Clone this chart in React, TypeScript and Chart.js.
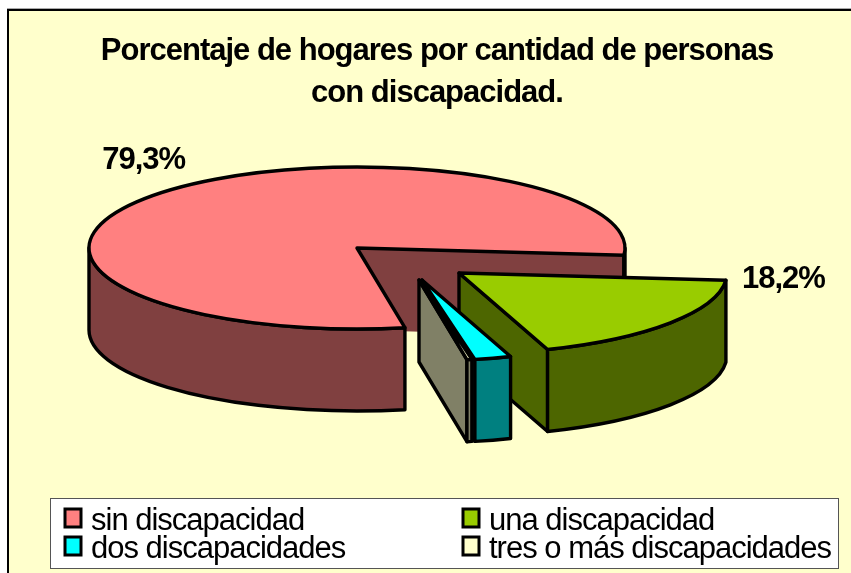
import React, { useEffect, useRef } from "react";
import { Chart, registerables } from "chart.js";

Chart.register(...registerables);

const categories = ["sin discapacidad", "una discapacidad", "dos discapacidades", "tres o más discapacidades"];
const values = [79.3, 18.2, 2.2, 0.3];
const titleLines = ["Porcentaje de hogares por cantidad de personas", "con discapacidad."];
const labelled = [true, true, false, false];

const topColors = ["#FF8080", "#99CC00", "#00FFFF", "#FFFFCC"];
const wallColors = ["#804040", "#4D6600", "#008080", "#808066"];
const cutColors = ["#804040", "#4D6600", "#00FFFF", "#808066"];

const FONT = "'Liberation Sans', Arial, sans-serif";
const CX = 357, CY = 248, RX = 268, RY = 81, DEPTH = 82, LW = 3.4;
const explode = [[0, 0], [102, 25], [65, 32], [62, 32]];
const labelShift = [[-57, -24], [16, 8]];
const legendCols = [65, 463];
const legendRows = [530, 558];

const pie3d = {
  id: "pie3d",
  beforeDraw(chart: any) {
    (chart.ctx as any).letterSpacing = "-1px";
  },
  beforeDatasetsDraw(chart: any) {
    const ctx: CanvasRenderingContext2D = chart.ctx;
    const arcs = chart.getDatasetMeta(0).data;
    arcs.forEach((arc: any, i: number) => {
      const [dx, dy] = explode[i];
      const cx = CX + dx, cy = CY + dy;
      const a0 = arc.startAngle, a1 = arc.endAngle;
      ctx.save();
      ctx.lineWidth = LW;
      ctx.lineJoin = "round";
      ctx.strokeStyle = "#000";

      // cut faces
      const cut = (a: number) => {
        const x = cx + RX * Math.cos(a), y = cy + RY * Math.sin(a);
        ctx.beginPath();
        ctx.moveTo(cx, cy); ctx.lineTo(x, y); ctx.lineTo(x, y + DEPTH); ctx.lineTo(cx, cy + DEPTH); ctx.closePath();
        ctx.fillStyle = cutColors[i];
        ctx.fill();
        ctx.beginPath();
        if (i === 0) {
          ctx.moveTo(x, y); ctx.lineTo(x, y + DEPTH);
        } else {
          ctx.moveTo(cx, cy); ctx.lineTo(x, y); ctx.lineTo(x, y + DEPTH); ctx.lineTo(cx, cy + DEPTH); ctx.closePath();
        }
        ctx.stroke();
      };
      if (-Math.cos(a0) > 0) cut(a0);
      if (Math.cos(a1) > 0) cut(a1);

      // outer wall: only the part of the rim that faces the viewer
      for (let k = -1; k <= 1; k++) {
        const lo = Math.max(a0, k * 2 * Math.PI);
        const hi = Math.min(a1, k * 2 * Math.PI + Math.PI);
        if (hi <= lo) continue;
        ctx.beginPath();
        ctx.ellipse(cx, cy, RX, RY, 0, lo, hi);
        ctx.ellipse(cx, cy + DEPTH, RX, RY, 0, hi, lo, true);
        ctx.closePath();
        ctx.fillStyle = wallColors[i];
        ctx.fill();
        ctx.stroke();
      }

      // top face: drawn by the library's own arc, flattened onto the ellipse
      const sx = RX / arc.outerRadius, sy = RY / arc.outerRadius;
      ctx.save();
      ctx.translate(cx, cy);
      ctx.scale(sx, sy);
      ctx.translate(-arc.x, -arc.y);
      arc.draw(ctx);
      ctx.restore();
      ctx.beginPath();
      ctx.moveTo(cx, cy);
      ctx.ellipse(cx, cy, RX, RY, 0, a0, a1);
      ctx.closePath();
      ctx.stroke();

      // value label
      if (labelled[i]) {
        const mid = (a0 + a1) / 2;
        const [lx, ly] = labelShift[i];
        const px = cx + RX * Math.cos(i === 0 ? mid : a0) + lx;
        const py = cy + RY * Math.sin(i === 0 ? mid : a0) + ly;
        ctx.fillStyle = "#000";
        ctx.font = `bold 31px ${FONT}`;
        ctx.textAlign = "left";
        ctx.textBaseline = "alphabetic";
        ctx.fillText(values[i].toFixed(1).replace(".", ",") + "%", px, py);
      }
      ctx.restore();
    });
    return false;
  },
  afterDraw(chart: any) {
    const ctx: CanvasRenderingContext2D = chart.ctx;
    ctx.save();
    ctx.fillStyle = "#FFFFFF";
    ctx.strokeStyle = "#555";
    ctx.lineWidth = 1;
    ctx.fillRect(50, 498, 788, 70);
    ctx.strokeRect(50.5, 498.5, 788, 70);
    ctx.font = `31px ${FONT}`;
    ctx.textBaseline = "alphabetic";
    ctx.textAlign = "left";
    categories.forEach((name, i) => {
      const x = legendCols[i % 2];
      const y = legendRows[Math.floor(i / 2)];
      ctx.fillStyle = topColors[i];
      ctx.strokeStyle = "#000";
      ctx.lineWidth = 3;
      ctx.fillRect(x, y - 21, 16, 18);
      ctx.strokeRect(x, y - 21, 16, 18);
      ctx.fillStyle = "#000";
      ctx.fillText(name, x + 26, y);
    });
    ctx.restore();
    (ctx as any).letterSpacing = "0px";
  },
};

export default function App() {
  const ref = useRef<HTMLCanvasElement>(null);
  useEffect(() => {
    const chart = new Chart(ref.current as HTMLCanvasElement, {
      type: "pie",
      data: {
        labels: categories,
        datasets: [{ data: values, backgroundColor: topColors, borderWidth: 0 }],
      },
      options: {
        responsive: false,
        animation: false,
        rotation: 169.7,
        layout: { padding: { left: 23, top: 30, bottom: 5, right: 0 } },
        plugins: {
          legend: { display: false },
          tooltip: { enabled: false },
          title: {
            display: true,
            text: titleLines,
            color: "#000",
            font: { family: FONT, size: 31, weight: "bold", lineHeight: 1.355 },
            padding: { top: 0, bottom: 0 },
          },
        },
      } as any,
      plugins: [pie3d],
    });
    return () => chart.destroy();
  }, []);
  return (
    <div style={{ position: "fixed", left: 0, top: 0, width: 851, height: 573, background: "#fff", overflow: "hidden" }}>
      <div style={{ position: "absolute", left: 7, top: 9, width: 900, height: 700, background: "#FFFFCC", borderLeft: "2px solid #000", borderTop: "2px solid #000", boxShadow: "0 -1px 0 #aaa" }} />
      <canvas ref={ref} width={851} height={573} style={{ position: "absolute", left: 0, top: 0, display: "block" }} />
    </div>
  );
}
